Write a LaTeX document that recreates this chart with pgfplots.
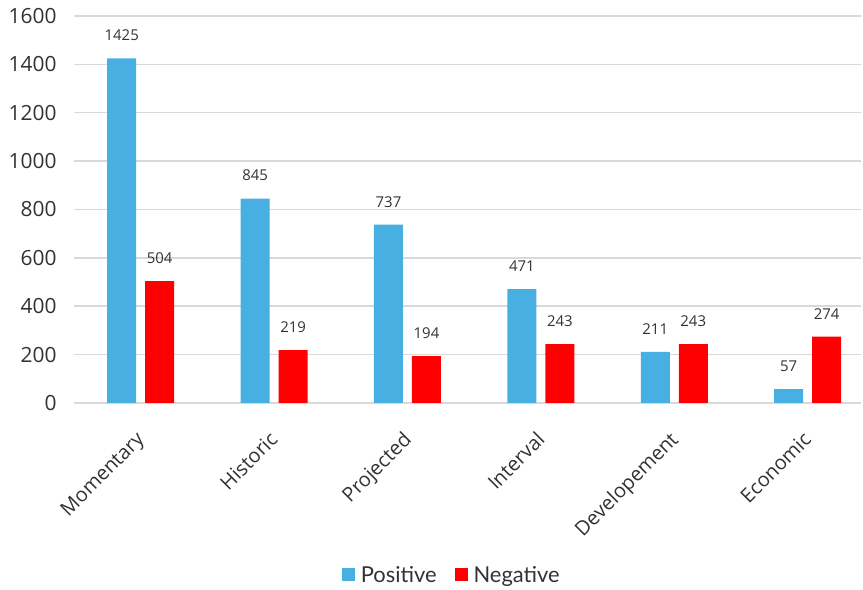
\documentclass[border=0pt]{standalone}
\usepackage{fontspec}
\setmainfont{Open Sans}
\newfontfamily\legfont{Lato}
\usepackage{pgfplots}
\pgfplotsset{compat=1.18}
\definecolor{cblue}{RGB}{71,175,226}
\definecolor{cred}{RGB}{255,0,0}
\definecolor{ctext}{RGB}{50,50,50}
\definecolor{cgrid}{RGB}{217,217,217}
\begin{document}
\begin{tikzpicture}[x=1bp,y=1bp]
\useasboundingbox (0,0) rectangle (863,590);
\begin{axis}[
  at={(74bp,187bp)}, anchor=south west,
  scale only axis, width=787bp, height=387bp,
  xmin=-0.5, xmax=5.4, ymin=0, ymax=1600,
  ytick={0,200,...,1600},
  yticklabel={\fontsize{21}{23}\selectfont\pgfmathprintnumber{\tick}},
  /pgf/number format/assume math mode=true,
  /pgf/number format/1000 sep={},
  xtick={0,1,2,3,4,5},
  xticklabels={Momentary,Historic,Projected,Interval,Developement,Economic},
  x tick label style={rotate=45, anchor=north east, font=\fontsize{20}{22}\selectfont, text=ctext, yshift=-12bp, xshift=-20bp},
  y tick label style={text=ctext, xshift=-14bp},
  axis line style={draw=none},
  major tick length=0pt,
  ymajorgrids, grid style={cgrid, line width=1.5bp},
  ybar, bar width=29bp,
  nodes near coords,
  every node near coord/.append style={font=\fontsize{15}{17}\selectfont, text=ctext, yshift=14bp},
  legend columns=2,
  legend style={at={(0.48,-0.445)}, anchor=center, draw=none, fill=none,
     font=\legfont\fontsize{22}{24}\selectfont, text=ctext,
     /tikz/every even column/.append style={column sep=16bp}},
  legend image code/.code={\fill[#1] (0bp,-6bp) rectangle (13bp,7bp);},
]
\addplot[fill=cblue, draw=none, bar shift=-19bp] coordinates {(0,1425) (1,845) (2,737) (3,471) (4,211) (5,57)};
\addplot[fill=cred, draw=none, bar shift=19bp] coordinates {(0,504) (1,219) (2,194) (3,243) (4,243) (5,274)};
\legend{\hspace{4bp}Positive,\hspace{4bp}Negative}
\end{axis}
\end{tikzpicture}
\end{document}
